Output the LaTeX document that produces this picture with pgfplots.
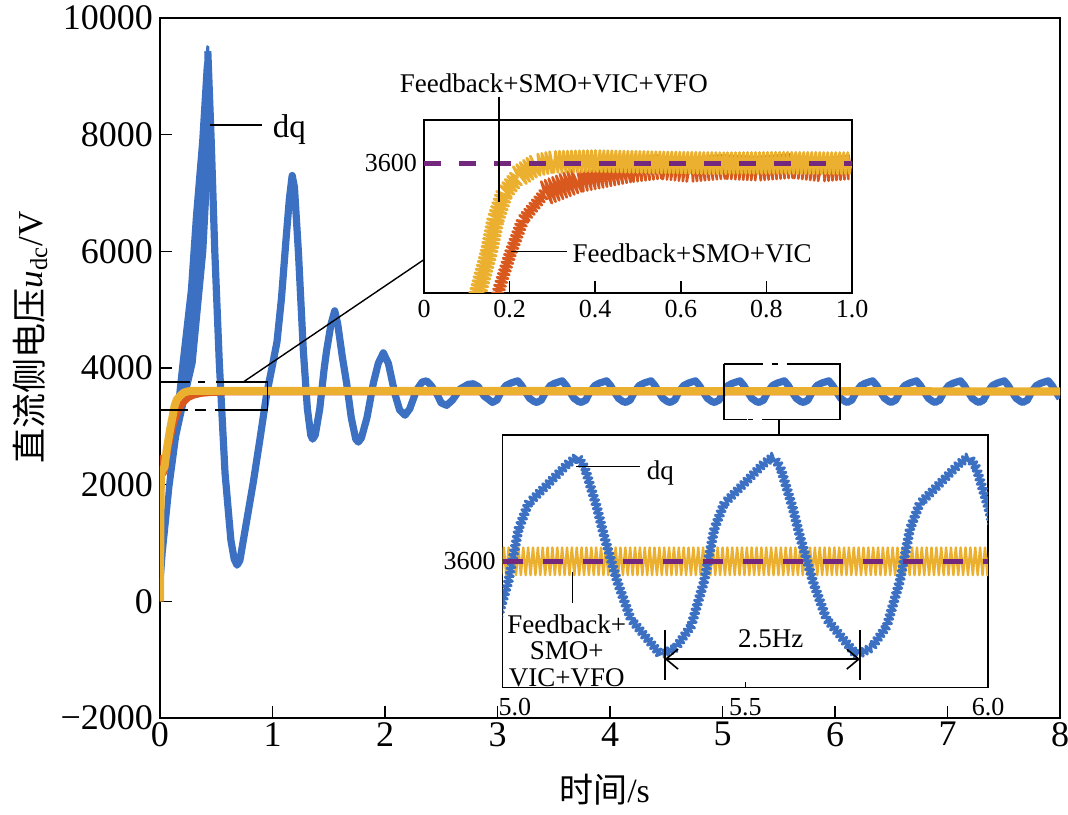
\documentclass[border=0pt]{standalone}
\usepackage{pgfplots}
\pgfplotsset{compat=1.18}
\usepackage{fontspec}
\setmainfont{Liberation Serif}
\newfontfamily\cjk{Noto Sans CJK SC}
\usetikzlibrary{decorations.pathmorphing,arrows.meta}
\definecolor{cblue}{RGB}{60,112,194}
\definecolor{cyel}{RGB}{236,176,48}
\definecolor{corg}{RGB}{217,88,30}
\definecolor{cpur}{RGB}{115,40,125}
\tikzset{rip/.style 2 args={decorate,decoration={zigzag,segment length=#1,amplitude=#2}}}
\begin{document}
\begin{tikzpicture}
\path[use as bounding box] (-80pt,-48pt) rectangle (454pt,359pt);
% ---------------- main axis ----------------
\begin{axis}[at={(0pt,0pt)}, anchor=south west, scale only axis,
  width=450pt, height=350pt,
  xmin=0, xmax=8, ymin=-2000, ymax=10000,
  xtick={0,1,2,3,4,5,6,7,8}, xticklabels={0,1,2,3,4,5,6,7,8},
  ytick={-2000,0,2000,4000,6000,8000,10000},
  yticklabels={−2000,0,2000,4000,6000,8000,10000},
  tick align=inside, tick pos=left, major tick length=6pt,
  axis line style={line width=0.75pt}, tick style={line width=0.75pt,black},
  every tick label/.append style={font=\fontsize{18}{18}\selectfont},
  xticklabel style={inner sep=2pt},
  clip mode=individual, no markers]
% blue wedge (wide ripple region of first rise)
\addplot[fill=cblue, draw=cblue, line width=0.8pt, line join=round] coordinates {
(0.000,0) (0.015,830) (0.060,1970) (0.104,2820) (0.145,3450) (0.180,4080) (0.255,5350)
(0.300,6620) (0.355,7890) (0.395,9160) (0.420,9520) (0.432,9500) (0.445,8400)
(0.440,7300) (0.405,6000) (0.310,4080) (0.240,3500) (0.163,2820) (0.104,1966)
(0.044,830) (0.012,0)};
% blue dq
\addplot[cblue, line width=3.6pt, line join=round] coordinates {
(0.425,9430) (0.455,7900) (0.487,6000) (0.527,4100) (0.578,2200) (0.630,1050) (0.660,720)
(0.685,620) (0.710,700) (0.750,1150) (0.790,1600) (0.830,2050) (0.890,2800) (0.948,3550)
(1.000,4050) (1.040,4450) (1.080,5200) (1.120,6200) (1.150,6900) (1.175,7300) (1.195,7100)
(1.230,6000) (1.274,4300) (1.310,3300) (1.340,2850) (1.357,2780) (1.380,2850) (1.420,3300)
(1.460,4000) (1.481,4300) (1.520,4750) (1.553,4980) (1.580,4750) (1.620,4200) (1.659,3737)
(1.700,3150) (1.740,2780) (1.763,2730) (1.790,2800) (1.840,3150) (1.896,3737) (1.940,4080)
(1.985,4260) (2.030,4080) (2.089,3550) (2.130,3280) (2.178,3190) (2.220,3300) (2.280,3620)
(2.330,3760) (2.370,3780) (2.410,3700) (2.459,3560) (2.500,3400) (2.548,3360) (2.600,3450)
(2.667,3640) (2.740,3720) (2.785,3730) (2.830,3680) (2.880,3520)
(2.955,3410) (2.995,3450) (3.035,3600) (3.075,3700) (3.115,3740) (3.155,3765) (3.180,3780) (3.215,3700) (3.245,3600) (3.285,3480) (3.325,3425)
(3.350,3410) (3.390,3450) (3.430,3600) (3.470,3700) (3.510,3740) (3.550,3765) (3.575,3780) (3.610,3700) (3.640,3600) (3.680,3480) (3.720,3425)
(3.745,3410) (3.785,3450) (3.825,3600) (3.865,3700) (3.905,3740) (3.945,3765) (3.970,3780) (4.005,3700) (4.035,3600) (4.075,3480) (4.115,3425)
(4.140,3410) (4.180,3450) (4.220,3600) (4.260,3700) (4.300,3740) (4.340,3765) (4.365,3780) (4.400,3700) (4.430,3600) (4.470,3480) (4.510,3425)
(4.535,3410) (4.575,3450) (4.615,3600) (4.655,3700) (4.695,3740) (4.735,3765) (4.760,3780) (4.795,3700) (4.825,3600) (4.865,3480) (4.905,3425)
(4.930,3410) (4.970,3450) (5.010,3600) (5.050,3700) (5.090,3740) (5.130,3765) (5.155,3780) (5.190,3700) (5.220,3600) (5.260,3480) (5.300,3425)
(5.325,3410) (5.365,3450) (5.405,3600) (5.445,3700) (5.485,3740) (5.525,3765) (5.550,3780) (5.585,3700) (5.615,3600) (5.655,3480) (5.695,3425)
(5.720,3410) (5.760,3450) (5.800,3600) (5.840,3700) (5.880,3740) (5.920,3765) (5.945,3780) (5.980,3700) (6.010,3600) (6.050,3480) (6.090,3425)
(6.110,3410) (6.150,3450) (6.190,3600) (6.230,3700) (6.270,3740) (6.310,3765) (6.335,3780) (6.370,3700) (6.400,3600) (6.440,3480) (6.480,3425)
(6.500,3410) (6.540,3450) (6.580,3600) (6.620,3700) (6.660,3740) (6.700,3765) (6.725,3780) (6.760,3700) (6.790,3600) (6.830,3480) (6.870,3425)
(6.890,3410) (6.930,3450) (6.970,3600) (7.010,3700) (7.050,3740) (7.090,3765) (7.115,3780) (7.150,3700) (7.180,3600) (7.220,3480) (7.260,3425)
(7.280,3410) (7.320,3450) (7.360,3600) (7.400,3700) (7.440,3740) (7.480,3765) (7.505,3780) (7.540,3700) (7.570,3600) (7.610,3480) (7.650,3425)
(7.670,3410) (7.710,3450) (7.750,3600) (7.790,3700) (7.830,3740) (7.870,3765) (7.895,3780) (7.930,3700) (7.960,3600) (8.000,3480)};
% orange Feedback+SMO+VIC
\addplot[corg, line width=3.5pt, line join=round] coordinates {
(0.000,0) (0.004,1600) (0.008,2350) (0.012,2450) (0.020,2300) (0.030,2200) (0.040,2250)
(0.060,2500) (0.090,2800) (0.120,3050) (0.167,3300) (0.202,3400) (0.249,3492) (0.303,3538)
(0.366,3565) (0.450,3580) (0.600,3590) (8.000,3590)};
% yellow Feedback+SMO+VIC+VFO
\addplot[cyel, line width=4pt, line join=round] coordinates {
(0.000,0) (0.004,1500) (0.008,2150) (0.020,2250) (0.040,2300) (0.060,2600) (0.090,2950)
(0.110,3150) (0.130,3350) (0.150,3460) (0.175,3515) (0.210,3577) (0.250,3600) (0.300,3610)
(8.000,3600)};
% annotations
\draw[line width=0.7pt] (axis cs:0.444,8166) -- (axis cs:0.904,8166);
\node[anchor=west, inner sep=0pt, font=\fontsize{16.5}{17}\selectfont] at (axis cs:1.0,8080) {dq};
% zoom rectangle 1
\draw[line width=0.7pt] (axis cs:0,3757) -- (axis cs:0.27,3757);
\draw[line width=0.7pt] (axis cs:0.34,3757) -- (axis cs:0.40,3757);
\draw[line width=0.7pt] (axis cs:0.50,3757) -- (axis cs:0.957,3757) -- (axis cs:0.957,3280) -- (axis cs:0.49,3280);
\draw[line width=0.7pt] (axis cs:0.31,3280) -- (axis cs:0.41,3280);
\draw[line width=0.7pt] (axis cs:0.25,3280) -- (axis cs:0,3280);
\draw[line width=0.7pt] (axis cs:0.738,3757) -- (axis cs:2.341,5851);
% zoom rectangle 2
\draw[line width=0.7pt] (axis cs:5.013,4069) -- (axis cs:5.363,4069);
\draw[line width=0.7pt] (axis cs:5.437,4069) -- (axis cs:5.496,4069);
\draw[line width=0.7pt] (axis cs:5.570,4069) -- (axis cs:6.044,4069) -- (axis cs:6.044,3120) -- (axis cs:5.348,3120);
\draw[line width=0.7pt] (axis cs:5.23,3120) -- (axis cs:5.274,3120);
\draw[line width=0.7pt] (axis cs:5.215,3120) -- (axis cs:5.013,3120) -- (axis cs:5.013,4069);
\draw[line width=0.7pt] (axis cs:5.502,3120) -- (axis cs:5.502,2851);
% axis labels
\node[rotate=90, inner sep=0pt, font=\fontsize{17.5}{20}\selectfont] at ([xshift=-65pt]axis description cs:0,0.544) {{\cjk 直流侧电压}\textit{u}\textsubscript{dc}/V};
\node[inner sep=0pt, font=\fontsize{17}{20}\selectfont] at ([yshift=-36pt]axis description cs:0.494,0) {{\cjk 时间}/s};
\end{axis}
% ---------------- inset 1 ----------------
\begin{axis}[at={(132pt,212.5pt)}, anchor=south west, scale only axis,
  width=214pt, height=86.5pt,
  xmin=0, xmax=1, ymin=3300, ymax=3700,
  xtick={0,0.2,0.4,0.6,0.8,1.0}, xticklabels={0,0.2,0.4,0.6,0.8,1.0},
  ytick={3600}, yticklabels={3600}, ytick style={draw=none},
  tick align=inside, tick pos=left, major tick length=6pt,
  axis line style={line width=0.75pt}, tick style={line width=0.75pt,black},
  every tick label/.append style={font=\fontsize{13}{13}\selectfont},
  axis background/.style={fill=white},
  clip mode=individual, no markers]
\addplot[corg, line width=1.3pt, line join=round, rip={2pt}{2.75pt}] coordinates {
(0.160,3250) (0.168,3280) (0.177,3315) (0.202,3392) (0.231,3469) (0.282,3531)};
\addplot[corg, line width=1.3pt, line join=round, rip={2pt}{6pt}] coordinates {
(0.282,3531) (0.360,3561) (0.480,3584) (0.550,3592) (0.620,3585) (0.700,3592) (0.780,3588)
(0.860,3594) (0.930,3586) (1.000,3592)};
\addplot[cyel, line width=1.4pt, line join=round, rip={2pt}{4pt}] coordinates {
(0.112,3250) (0.120,3280) (0.130,3315) (0.151,3392) (0.167,3469) (0.188,3531) (0.220,3570)};
\addplot[cyel, line width=1.4pt, line join=round, rip={2pt}{5.3pt}] coordinates {
(0.220,3570) (0.260,3595) (0.300,3603) (0.400,3605) (0.550,3602) (0.700,3600) (0.850,3601)
(1.000,3600)};
\addplot[cpur, line width=2.5pt, dash pattern=on 8.3pt off 9.2pt] coordinates {(0,3600) (1,3600)};
\draw[line width=0.7pt] (axis cs:0.175,3754) -- (axis cs:0.175,3511);
\draw[line width=0.7pt] (axis cs:0.2025,3396) -- (axis cs:0.335,3396);
\node[inner sep=0pt, font=\fontsize{13.5}{14}\selectfont] at (axis cs:0.3035,3785) {Feedback+SMO+VIC+VFO};
\node[anchor=west, inner sep=0pt, font=\fontsize{13.5}{14}\selectfont] at (axis cs:0.3465,3391) {Feedback+SMO+VIC};
\end{axis}
% ---------------- inset 2 ----------------
\begin{axis}[at={(171.3pt,15.2pt)}, anchor=south west, scale only axis,
  width=242.8pt, height=126.3pt,
  xmin=5, xmax=6, ymin=3250, ymax=3950,
  xtick={5,5.5,6}, xticklabels={,,},
  ytick={3600}, yticklabels={3600}, ytick style={draw=none},
  tick align=inside, tick pos=left, major tick length=3pt,
  axis line style={line width=0.75pt}, tick style={line width=0.75pt,black},
  every tick label/.append style={font=\fontsize{13}{13}\selectfont},
  axis background/.style={fill=white},
  clip mode=individual, no markers]
\addplot[cyel, line width=1.2pt, line join=round, rip={2.43pt}{6.9pt}] coordinates {(4.99,3600) (6.01,3600)};
\addplot[cblue, line width=1.5pt, line join=round, rip={2.3pt}{1.9pt}] coordinates {
(4.923,3340) (4.953,3360) (4.985,3420) (5.012,3545) (5.033,3690) (5.053,3760) (5.094,3815)
(5.134,3870) (5.154,3890) (5.169,3860) (5.194,3750) (5.209,3670) (5.237,3540) (5.264,3440)
(5.298,3385) (5.326,3340) (5.356,3360) (5.388,3420) (5.415,3545) (5.436,3690) (5.456,3760)
(5.497,3815) (5.537,3870) (5.557,3890) (5.572,3860) (5.597,3750) (5.612,3670) (5.640,3540)
(5.667,3440) (5.701,3385) (5.729,3340) (5.759,3360) (5.791,3420) (5.818,3545) (5.839,3690)
(5.859,3760) (5.900,3815) (5.940,3870) (5.960,3890) (5.975,3860) (6.000,3750) (6.015,3670)};
\addplot[cpur, line width=2.5pt, dash pattern=on 10pt off 10pt] coordinates {(5,3600) (6,3600)};
% annotations
\draw[line width=0.7pt] (axis cs:5.152,3862) -- (axis cs:5.283,3862);
\node[anchor=west, inner sep=0pt, font=\fontsize{13.5}{14}\selectfont] at (axis cs:5.2965,3846) {dq};
\draw[line width=0.7pt] (axis cs:5.144,3571) -- (axis cs:5.144,3485);
\node[anchor=north, inner sep=0pt, align=center, font=\fontsize{13.5}{13.3}\selectfont] at (axis cs:5.132,3454) {Feedback+\\SMO+\\VIC+VFO};
\draw[line width=0.8pt, {Straight Barb[length=6pt,width=10pt]}-{Straight Barb[length=6pt,width=10pt]}] (axis cs:5.334,3329) -- (axis cs:5.736,3329);
\draw[line width=0.8pt] (axis cs:5.334,3271) -- (axis cs:5.334,3410);
\draw[line width=0.8pt] (axis cs:5.736,3271) -- (axis cs:5.736,3410);
\node[inner sep=0pt, font=\fontsize{13.5}{14}\selectfont] at (axis cs:5.552,3385) {2.5Hz};
\node[anchor=north, font=\fontsize{13}{13}\selectfont, inner sep=0pt] at ([yshift=-5pt]axis cs:5.025,3250) {5.0};
\node[anchor=north, font=\fontsize{13}{13}\selectfont, inner sep=0pt] at ([yshift=-5pt]axis cs:5.5,3250) {5.5};
\node[anchor=north, font=\fontsize{13}{13}\selectfont, inner sep=0pt] at ([yshift=-5pt]axis cs:6.0,3250) {6.0};
\end{axis}
\end{tikzpicture}
\end{document}
